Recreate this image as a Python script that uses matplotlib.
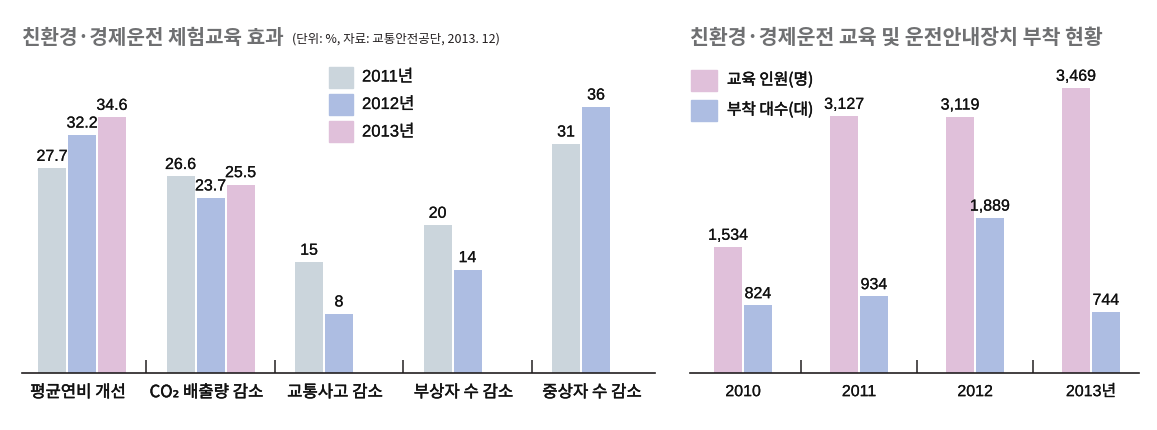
#!/usr/bin/env python3
"""Eco-driving education charts."""

import matplotlib
matplotlib.use("Agg")
import matplotlib.pyplot as plt
import matplotlib.patheffects as pe
import matplotlib.transforms as mtransforms
import numpy as np

# Left chart data
effect_cats = ["평균연비 개선", "CO₂ 배출량 감소", "교통사고 감소", "부상자 수 감소", "중상자 수 감소"]
effect_years = ["2011년", "2012년", "2013년"]
effect_2011 = [27.7, 26.6, 15, 20, 31]
effect_2012 = [32.2, 23.7, 8, 14, 36]
effect_2013 = [34.6, 25.5, None, None, None]

# Right chart data
status_years = ["2010", "2011", "2012", "2013년"]
edu_people = [1534, 3127, 3119, 3469]
devices = [824, 934, 1889, 744]
status_labels = ["교육 인원(명)", "부착 대수(대)"]

GRAY = "#cbd5dc"
BLUE = "#adbde2"
PINK = "#e0c0da"
TITLE_C = "#6f7072"
INK = "#111111"
KR = ["Noto Sans CJK KR", "DejaVu Sans"]
NUM = ["Liberation Sans Narrow", "Liberation Sans", "Noto Sans CJK KR"]
HEAVY = [pe.withStroke(linewidth=0.35, foreground=INK)]
SEMI = [pe.withStroke(linewidth=0.15, foreground=INK)]

plt.rcParams["font.family"] = KR

W, H = 1157, 430
fig = plt.figure(figsize=(W / 100, H / 100), dpi=100)


def ax_rect(x0, x1, ytop, ybot):
    return [x0 / W, 1 - ybot / H, (x1 - x0) / W, (ybot - ytop) / H]


def fmt(v, comma=False):
    if comma:
        return f"{v:,}"
    return f"{v:g}"


def style_axis(ax, dividers):
    for s in ["top", "right", "left"]:
        ax.spines[s].set_visible(False)
    ax.spines["bottom"].set_color("#231f20")
    ax.spines["bottom"].set_linewidth(1.2)
    ax.set_yticks([])
    ax.tick_params(axis="x", length=0, pad=8)
    trans = mtransforms.blended_transform_factory(ax.transData, ax.transAxes)
    ax.vlines(dividers, 0, 0.042, color="#231f20", lw=1.1, transform=trans)


# ---------- left chart ----------
ax1 = fig.add_axes(ax_rect(22, 655, 60, 373))
x = np.arange(len(effect_cats))
step, width = 0.2335, 0.218
series = [effect_2011, effect_2012, effect_2013]
colors = [GRAY, BLUE, PINK]
for j, (vals, c, lab) in enumerate(zip(series, colors, effect_years)):
    for i, v in enumerate(vals):
        if v is None:
            continue
        xi = x[i] + (j - 1) * step
        ax1.bar(xi, v, width=width, color=c)
        ax1.text(xi, v + 0.6, fmt(v), ha="center", va="bottom",
                 fontsize=11.5, family=NUM, color=INK, path_effects=SEMI)
ax1.set_xlim(-0.467, 4.459)
ax1.set_ylim(0, 313 / 7.39)
ax1.set_xticks(x - 0.03)
ax1.set_xticklabels(effect_cats, fontsize=12, color=INK)
for t in ax1.get_xticklabels():
    t.set_path_effects(HEAVY)
style_axis(ax1, x[:-1] + 0.5)

fig.text(22 / W, 1 - 37 / H, "친환경·경제운전 체험교육 효과", fontsize=14.5,
         fontweight="bold", color=TITLE_C, va="center")
fig.text(292 / W, 1 - 39 / H, "(단위: %, 자료: 교통안전공단, 2013. 12)",
         fontsize=9, color="#231f20", va="center")

# legend left
for k, (c, lab) in enumerate(zip(colors, effect_years)):
    yc = 77 + k * 27.5
    fig.patches.append(plt.Rectangle((329 / W, 1 - (yc + 10.5) / H), 24 / W, 21 / H,
                                     color=c, transform=fig.transFigure))
    fig.text(362 / W, 1 - yc / H, lab, fontsize=12, family=NUM + KR[:1],
             va="center", color=INK, path_effects=SEMI)

# ---------- right chart ----------
ax2 = fig.add_axes(ax_rect(690, 1139, 60, 373))
x2 = np.arange(len(status_years))
step2, width2 = 0.129, 0.241
for i in range(len(status_years)):
    ax2.bar(x2[i] - step2, edu_people[i], width=width2, color=PINK)
    ax2.bar(x2[i] + step2, devices[i], width=width2, color=BLUE)
    ax2.text(x2[i] - step2, edu_people[i] + 50, fmt(edu_people[i], True),
             ha="center", va="bottom", fontsize=11.5, family=NUM, color=INK,
             path_effects=SEMI)
    ax2.text(x2[i] + step2, devices[i] + 50, fmt(devices[i], True),
             ha="center", va="bottom", fontsize=11.5, family=NUM, color=INK,
             path_effects=SEMI)
ax2.set_xlim(-0.457, 3.414)
ax2.set_ylim(0, 313 / 0.0822)
ax2.set_xticks(x2)
ax2.set_xticklabels(status_years, fontsize=11.5, color=INK, family=NUM + KR[:1])
for t in ax2.get_xticklabels():
    t.set_path_effects(SEMI)
style_axis(ax2, x2[:-1] + 0.5)

fig.text(690 / W, 1 - 37 / H, "친환경·경제운전 교육 및 운전안내장치 부착 현황",
         fontsize=14.8, fontweight="bold", color=TITLE_C, va="center")

for k, (c, lab) in enumerate(zip([PINK, BLUE], status_labels)):
    yc = 80 + k * 30
    fig.patches.append(plt.Rectangle((691 / W, 1 - (yc + 10.5) / H), 26 / W, 21 / H,
                                     color=c, transform=fig.transFigure))
    fig.text(727 / W, 1 - yc / H, lab, fontsize=11.3, va="center", color=INK,
             path_effects=HEAVY)

fig.savefig("out.png", dpi=100)
